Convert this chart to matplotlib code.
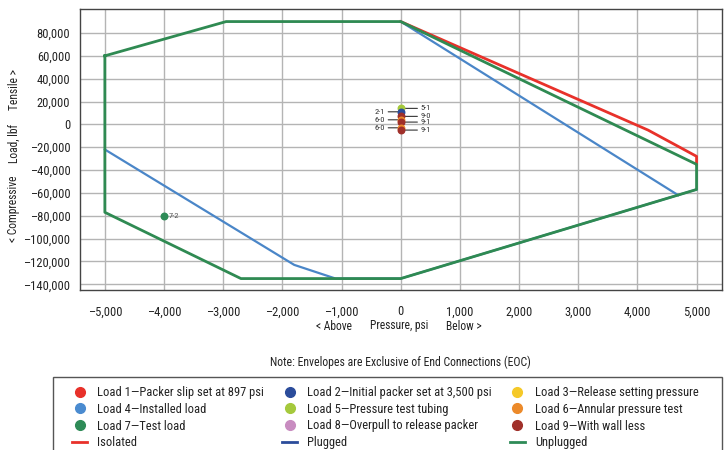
import matplotlib
matplotlib.use("Agg")
import matplotlib.pyplot as plt
from matplotlib.lines import Line2D
from matplotlib.patches import Rectangle
from matplotlib.ticker import FuncFormatter, FixedLocator

plt.rcParams["font.family"] = ["Roboto Condensed", "Archivo Narrow", "PT Sans Narrow",
                               "Liberation Sans Narrow", "DejaVu Sans"]

# envelopes: pressure (psi), load (lbf)
iso_p = [0, 4180, 5000, 5000]
iso_l = [90000, -5000, -28000, -35000]
plug_p = [0, 4690]
plug_l = [90000, -62000]
plug_low_p = [-5000, -1800, -1100, 0, 5000]
plug_low_l = [-22000, -123000, -135000, -135000, -57000]
unplug_p = [-5000, -2950, 0, 5000, 5000, 0, -2700, -5000, -5000]
unplug_l = [60000, 90000, 90000, -35000, -57000, -135000, -135000, -77000, 60000]

# load points
pt_labels = ["5-1", "2-1", "9-0", "6-0", "9-1", "6-0", "9-1", "7-2"]
pt_p = [0, 0, 0, 0, 0, 0, 0, -4000]
pt_l = [14000, 11000, 7000, 4000, 2000, -3000, -5000, -80000]
pt_load = [5, 2, 9, 6, 9, 6, 9, 7]
pt_side = ["r", "l", "r", "l", "r", "l", "r", "r"]

x_ticks = [-5000, -4000, -3000, -2000, -1000, 0, 1000, 2000, 3000, 4000, 5000]
y_ticks = [-140000, -120000, -100000, -80000, -60000, -40000, -20000,
           0, 20000, 40000, 60000, 80000]

load_names = [
    "Load 1\u2014Packer slip set at 897 psi",
    "Load 2\u2014Initial packer set at 3,500 psi",
    "Load 3\u2014Release setting pressure",
    "Load 4\u2014Installed load",
    "Load 5\u2014Pressure test tubing",
    "Load 6\u2014Annular pressure test",
    "Load 7\u2014Test load",
    "Load 8\u2014Overpull to release packer",
    "Load 9\u2014With wall less",
]
load_colors = ["#e8312a", "#2b4c9b", "#f5c928", "#4a8bd0", "#a5c93c",
               "#ec8a2a", "#2e8b57", "#c88cc0", "#a0302a"]
env_names = ["Isolated", "Plugged", "Unplugged"]
env_colors = ["#e8312a", "#2b4c9b", "#2e8b57"]

RED = "#e8312a"
BLUE = "#4a86c8"
GREEN = "#2f8a52"
TXT = "#222222"

W, H = 726, 450
fig = plt.figure(figsize=(7.26, 4.5), dpi=100)
ax = fig.add_axes([80 / W, 1 - 290 / H, 642 / W, 281 / H])

ax.plot(iso_p, iso_l, color=RED, lw=2)
ax.plot(plug_p, plug_l, color=BLUE, lw=1.6)
ax.plot(plug_low_p, plug_low_l, color=BLUE, lw=1.6)
ax.plot(unplug_p, unplug_l, color=GREEN, lw=2)

for lab, p, l, n, side in zip(pt_labels, pt_p, pt_l, pt_load, pt_side):
    ax.scatter([p], [l], s=22, color=load_colors[n - 1], zorder=5)
    if p == 0:
        off = 14 if side == "r" else -11
        ax.annotate(lab, xy=(p, l), xytext=(off, 0), textcoords="offset points",
                    ha="left" if side == "r" else "right", va="center",
                    fontsize=6, color="#333333",
                    arrowprops=dict(arrowstyle="-", lw=0.8, color="#333333",
                                    shrinkA=0, shrinkB=0))
    else:
        ax.annotate(lab, xy=(p, l), xytext=(3, 0), textcoords="offset points",
                    ha="left", va="center", fontsize=6, color="#555555")

ax.set_xlim(-5420, 5430)
ax.set_ylim(-145000, 101000)
ax.xaxis.set_major_locator(FixedLocator(x_ticks))
ax.yaxis.set_major_locator(FixedLocator(y_ticks))


def fmt(v, pos):
    s = f"{abs(v):,.0f}"
    return "\u2013" + s if v < 0 else s


ax.xaxis.set_major_formatter(FuncFormatter(fmt))
ax.yaxis.set_major_formatter(FuncFormatter(fmt))
ax.grid(True, color="#b4b4b4", lw=1)
ax.set_axisbelow(True)
ax.tick_params(length=0, labelsize=9, colors=TXT)
ax.tick_params(axis="x", pad=11)
ax.tick_params(axis="y", pad=7)
for s in ax.spines.values():
    s.set_color("#444444")
    s.set_linewidth(1)

# axis titles in three pieces, as in the original
for txt, yc in [("Tensile >", 90), ("Load, lbf", 143.5), ("< Compressive", 208.5)]:
    fig.text(14 / W, 1 - yc / H, txt, rotation=90, ha="center", va="center",
             fontsize=8.3, color=TXT)
for txt, xc in [("< Above", 334.5), ("Pressure, psi", 399), ("Below >", 464)]:
    fig.text(xc / W, 1 - 326 / H, txt, ha="center", va="center",
             fontsize=8.3, color=TXT)

fig.text(400 / W, 1 - 362 / H,
         "Note: Envelopes are Exclusive of End Connections (EOC)",
         ha="center", va="center", fontsize=8.5, color=TXT)

# legend frame (runs past the bottom edge)
fig.patches.append(Rectangle((53 / W, -0.05), (722 - 53) / W, (1 - 377 / H) + 0.05,
                             transform=fig.transFigure, fill=False,
                             edgecolor="#555555", lw=1))

handles = [Line2D([], [], marker="o", ls="none", ms=7, color=c) for c in load_colors]
handles += [Line2D([], [], lw=2, color=c) for c in env_colors]
labels = load_names + env_names
# column-major order for a 3-column legend
order = [0, 3, 6, 9, 1, 4, 7, 10, 2, 5, 8, 11]
leg = fig.legend([handles[i] for i in order], [labels[i] for i in order],
                 ncol=3, loc="upper left", bbox_to_anchor=(72 / W, 1 - 386 / H),
                 fontsize=9, frameon=False, handlelength=1.2,
                 handletextpad=0.8, columnspacing=1.45, labelspacing=0.3,
                 borderpad=0, borderaxespad=0)
for t in leg.get_texts():
    t.set_color(TXT)

fig.savefig("out.png", dpi=100)
